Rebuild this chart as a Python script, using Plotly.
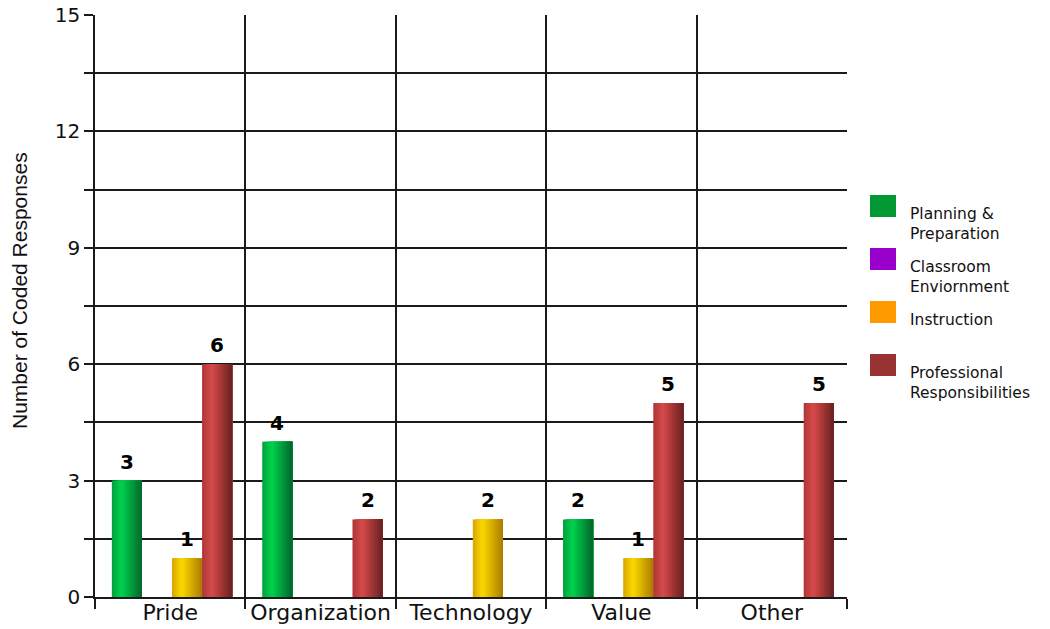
import plotly.graph_objects as go

# --- data -------------------------------------------------------------
categories = ["Pride", "Organization", "Technology", "Value", "Other"]
series_names = [
    "Planning &<br>Preparation",
    "Classroom<br>Enviornment",
    "Instruction",
    "Professional<br>Responsibilities",
]
planning = [3, 4, 0, 2, 0]
classroom = [0, 0, 0, 0, 0]
instruction = [1, 0, 2, 1, 0]
professional = [6, 2, 0, 5, 5]
series_values = [planning, classroom, instruction, professional]

y_ticks = [0, 1.5, 3, 4.5, 6, 7.5, 9, 10.5, 12, 13.5, 15]
y_tick_text = ["0", "", "3", "", "6", "", "9", "", "12", "", "15"]

# --- styling ----------------------------------------------------------
legend_colors = ["#009933", "#9900cc", "#ff9900", "#993333"]
# (edge, highlight, shadow) for the cylinder-style shading of each series
shade_colors = [
    ("#00a03a", "#00d24e", "#00662a"),
    ("#8a00b8", "#b030e0", "#5c0080"),
    ("#d9a300", "#fcd900", "#ad7b00"),
    ("#ad3636", "#d84a4a", "#6a2020"),
]
FONT = "DejaVu Sans"
GRID = "#1a1a1a"

W, H = 1050, 629
L, R, T, B = 95, 203, 15, 32


def hex_to_rgb(h):
    h = h.lstrip("#")
    return tuple(int(h[i:i + 2], 16) for i in (0, 2, 4))


def mix(c1, c2, t):
    a, b = hex_to_rgb(c1), hex_to_rgb(c2)
    return "rgb(%d,%d,%d)" % tuple(round(a[i] + (b[i] - a[i]) * t) for i in range(3))


def shade(colors, t, peak=0.32):
    edge, light, dark = colors
    if t <= peak:
        return mix(edge, light, t / peak)
    return mix(light, dark, (t - peak) / (1 - peak))


fig = go.Figure()

group_width = 0.8
slot = group_width / len(series_values)
n_strips = 16
group_shift = 0.012  # bars sit slightly right of the category centre

for s, vals in enumerate(series_values):
    start = -group_width / 2 + s * slot + group_shift
    step = slot / n_strips
    for k in range(n_strips):
        t = (k + 0.5) / n_strips
        fig.add_trace(go.Bar(
            x=categories,
            y=vals,
            offset=start + k * step,
            width=slot - k * step,
            marker=dict(color=shade(shade_colors[s], t), line=dict(width=0)),
            showlegend=False,
            hoverinfo="skip",
        ))

# value labels above each non-zero bar
for s, vals in enumerate(series_values):
    center = -group_width / 2 + (s + 0.5) * slot + group_shift
    for i, v in enumerate(vals):
        if v:
            fig.add_annotation(
                x=i + center, y=v, xref="x", yref="y",
                text=str(v), showarrow=False,
                yanchor="middle", yshift=19,
                font=dict(family=FONT, size=20, color="black", weight="bold"),
            )

# legend drawn as swatches + labels to the right of the plot area
plot_w = W - L - R
plot_h = H - T - B
for s, name in enumerate(series_names):
    top_px = 195 + s * 53
    fig.add_shape(
        type="rect", xref="paper", yref="paper",
        x0=(870 - L) / plot_w, x1=(896 - L) / plot_w,
        y0=(H - B - top_px) / plot_h, y1=(H - B - top_px - 22) / plot_h,
        fillcolor=legend_colors[s], line=dict(width=0),
    )
    fig.add_annotation(
        xref="paper", yref="paper",
        x=(908 - L) / plot_w, y=(H - B - top_px - 8) / plot_h,
        xanchor="left", yanchor="top", align="left",
        text=name, showarrow=False,
        font=dict(family=FONT, size=15.5, color="#111"),
    )

# y-axis title
fig.add_annotation(
    xref="paper", yref="paper",
    x=(19 - L) / plot_w, y=(H - B - 291) / plot_h,
    text="Number of Coded Responses", textangle=-90, showarrow=False,
    xanchor="center", yanchor="middle",
    font=dict(family="Liberation Sans", size=21, color="#111"),
)

fig.update_layout(
    width=W, height=H,
    margin=dict(l=L, r=R, t=T, b=B, autoexpand=False),
    barmode="overlay",
    plot_bgcolor="white", paper_bgcolor="white",
    showlegend=False,
    font=dict(family=FONT, color="#111"),
)
fig.update_xaxes(
    type="category", range=[-0.5, 4.5], automargin=False, tickangle=0,
    tickson="boundaries", ticks="outside", ticklen=10, tickwidth=1.5, tickcolor=GRID,
    showgrid=True, gridcolor=GRID, gridwidth=1.5,
    showline=True, linecolor=GRID, linewidth=1.5,
    tickfont=dict(family=FONT, size=22, color="#111"),
    ticklabelstandoff=-5,
)
fig.update_yaxes(
    range=[0, 15], tickvals=y_ticks, ticktext=y_tick_text, automargin=False,
    ticks="outside", ticklen=9, tickwidth=1.5, tickcolor=GRID,
    showgrid=True, gridcolor=GRID, gridwidth=1.5, zeroline=False,
    showline=True, linecolor=GRID, linewidth=1.5,
    tickfont=dict(family=FONT, size=20, color="#111"),
)

fig.write_html("out.html")
